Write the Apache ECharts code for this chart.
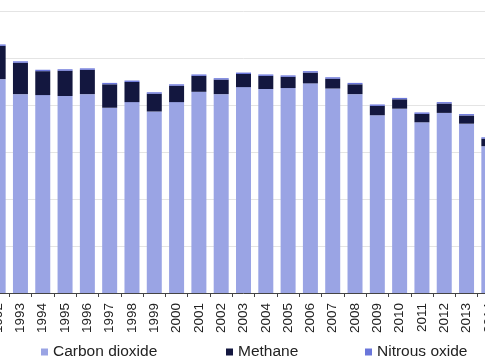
<!DOCTYPE html>
<html>
<head>
<meta charset="utf-8">
<script src="https://cdn.jsdelivr.net/npm/echarts@6/dist/echarts.min.js"></script>
<style>html,body{margin:0;padding:0;background:#fff;overflow:hidden;width:485px;height:360px;position:relative;}#c{position:absolute;left:-13px;top:0;width:513px;height:360px;}</style>
</head>
<body>
<div id="c"></div>
<script>
var years = ['1992','1993','1994','1995','1996','1997','1998','1999','2000','2001','2002','2003','2004','2005','2006','2007','2008','2009','2010','2011','2012','2013','2014'];
var carbonDioxide = [45.6,42.4,42.2,42.0,42.4,39.5,40.7,38.7,40.7,42.9,42.4,43.9,43.5,43.7,44.7,43.6,42.4,37.9,39.3,36.4,38.4,36.1,31.3];
var methane = [7.1,6.7,5.1,5.4,5.2,5.0,4.3,3.8,3.5,3.4,3.1,2.8,2.8,2.4,2.3,2.1,2.1,2.0,2.0,1.8,2.0,1.75,1.6];
var nitrousOxide = [0.3,0.3,0.3,0.3,0.3,0.3,0.3,0.3,0.3,0.3,0.3,0.3,0.3,0.3,0.3,0.3,0.3,0.3,0.3,0.3,0.3,0.3,0.3];
var yTicks = [0,10,20,30,40,50,60];

var font = "'Liberation Sans', Arial, sans-serif";
var chart = echarts.init(document.getElementById('c'), null, {renderer:'canvas'});
var legendBase = {
  orient:'horizontal', top:339, itemWidth:7, itemHeight:7, icon:'rect',
  textStyle:{fontFamily:font, fontSize:15.5, color:'#222', lineHeight:16}
};
chart.setOption({
  animation:false,
  backgroundColor:'#fff',
  grid:{left:0, right:0, top:11.6, bottom:67, containLabel:false},
  legend:[
    Object.assign({}, legendBase, {left:49, data:['Carbon dioxide']}),
    Object.assign({}, legendBase, {left:234, data:['Methane']}),
    Object.assign({}, legendBase, {left:373, data:['Nitrous oxide']})
  ],
  xAxis:{
    type:'category', data:years, boundaryGap:true,
    axisLine:{lineStyle:{color:'#444', width:1}},
    axisTick:{show:true, length:4, lineStyle:{color:'#444'}},
    axisLabel:{rotate:90, margin:10, fontFamily:font, fontSize:13.5, color:'#222', interval:0}
  },
  yAxis:{
    type:'value', min:yTicks[0], max:yTicks[yTicks.length-1], interval:10,
    axisLine:{show:false}, axisTick:{show:false}, axisLabel:{show:false},
    splitLine:{lineStyle:{color:'#e4e4e4', width:1}}
  },
  series:[
    {name:'Carbon dioxide', type:'bar', stack:'t', data:carbonDioxide, barWidth:15, itemStyle:{color:'#9AA4E4'}},
    {name:'Methane', type:'bar', stack:'t', data:methane, barWidth:15, itemStyle:{color:'#13173F'}},
    {name:'Nitrous oxide', type:'bar', stack:'t', data:nitrousOxide, barWidth:15, itemStyle:{color:'#6A76DA'}}
  ]
});
</script>
</body>
</html>
